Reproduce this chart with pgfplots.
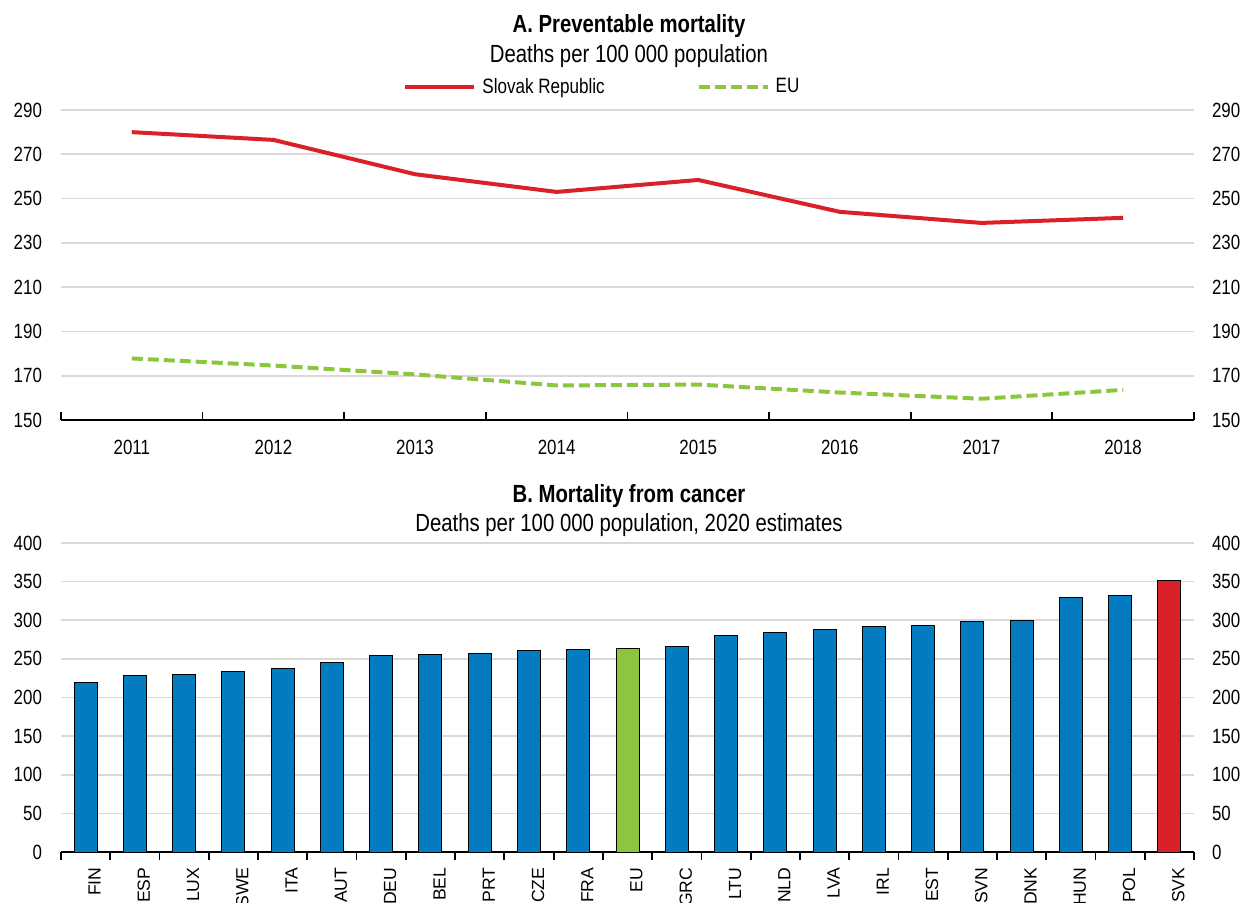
\documentclass[border=0pt]{standalone}
\usepackage{fontspec}
\setmainfont{Liberation Sans}[FakeStretch=0.82]
\newfontfamily\widesans{Liberation Sans}
\usepackage{pgfplots}
\pgfplotsset{compat=1.18}

\definecolor{oblue}{HTML}{037BC1}
\definecolor{ogreen}{HTML}{8CC63F}
\definecolor{ored}{HTML}{DA2128}
\definecolor{ogrid}{HTML}{D9D9D9}

\pgfplotsset{
  base/.style={
    scale only axis, width=566.5pt,
    /pgf/number format/assume math mode=true,
    tick label style={font=\fontsize{10.3}{12}\selectfont},
    axis x line*=bottom, axis y line*=left,
    y axis line style={draw=none},
    x axis line style={line width=0.9pt},
    major tick style={draw=none},
    minor x tick style={draw=black, line width=0.9pt},
    minor tick length=4pt, tick align=inside,
    ymajorgrids, grid style={ogrid, line width=0.8pt},
    yticklabel style={xshift=-6pt},
    clip=false,
  },
  rightlab/.style={
    scale only axis, width=566.5pt,
    /pgf/number format/assume math mode=true,
    tick label style={font=\fontsize{10.3}{12}\selectfont},
    hide x axis, axis y line*=right,
    y axis line style={draw=none}, major tick style={draw=none},
    yticklabel style={xshift=5.5pt},
  },
}

\begin{document}
\begin{tikzpicture}
\useasboundingbox (0,0) rectangle (625.5pt,-451.5pt);

% titles
\node[anchor=base, font=\fontsize{12.4}{14}\selectfont\bfseries] at (314.5pt,-16.5pt) {A. Preventable mortality};
\node[anchor=base, font=\fontsize{12.4}{14}\selectfont] at (314.5pt,-31.3pt) {Deaths per 100 000 population};
\node[anchor=base, font=\fontsize{12.4}{14}\selectfont\bfseries] at (314.5pt,-251pt) {B. Mortality from cancer};
\node[anchor=base, font=\fontsize{12.4}{14}\selectfont] at (314.5pt,-265.5pt) {Deaths per 100 000 population, 2020 estimates};

% panel A
\begin{axis}[base,
  at={(30.5pt,-210pt)}, anchor=south west, height=155pt,
  xmin=2010.5, xmax=2018.5, ymin=150, ymax=290,
  ytick={150,170,...,290},
  xtick={2011,...,2018},
  xticklabels={2011,2012,2013,2014,2015,2016,2017,2018},
  minor xtick={2010.5,2011.5,...,2018.5},
  xticklabel style={yshift=-6.5pt},
  legend columns=2,
  legend image code/.code={\draw[#1] (0pt,0pt) -- (34.5pt,0pt);},
  legend style={draw=none, fill=none, inner sep=0pt,
    at={(rel axis cs:0,1)}, anchor=west, xshift=171pt, yshift=11.5pt,
    font=\fontsize{10.4}{12}\selectfont,
    nodes={inner sep=0pt},
    /tikz/every odd column/.append style={column sep=3pt},
    /tikz/every even column/.append style={column sep=46pt}},
]
\addplot[ored, line width=2pt] coordinates {
  (2011,280) (2012,276.5) (2013,261) (2014,253) (2015,258.4)
  (2016,244) (2017,239) (2018,241.3)};
\addlegendentry{Slovak Republic}
\addplot[ogreen, line width=2pt, dash pattern=on 5.5pt off 2.5pt] coordinates {
  (2011,177.8) (2012,174.6) (2013,170.6) (2014,165.6) (2015,166)
  (2016,162.4) (2017,159.6) (2018,163.6)};
\addlegendentry{EU}
\end{axis}
\begin{axis}[rightlab,
  at={(30.5pt,-210pt)}, anchor=south west, height=155pt,
  xmin=2010.5, xmax=2018.5, ymin=150, ymax=290,
  ytick={150,170,...,290},
]
\end{axis}

% panel B
\begin{axis}[base,
  at={(30.5pt,-426pt)}, anchor=south west, height=154.5pt,
  xmin=-0.5, xmax=22.5, ymin=0, ymax=400,
  ytick={0,50,...,400},
  xtick={0,...,22},
  xticklabels={FIN,ESP,LUX,SWE,ITA,AUT,DEU,BEL,PRT,CZE,FRA,EU,GRC,LTU,NLD,LVA,IRL,EST,SVN,DNK,HUN,POL,SVK},
  xticklabel style={rotate=90, anchor=east, yshift=-4.5pt, font=\widesans\fontsize{8.8}{11}\selectfont},
  minor xtick={-0.5,0.5,...,22.5},
  ybar, bar width=11.5pt,
]
\addplot[bar shift=0pt, fill=oblue, draw=black, line width=0.5pt] coordinates {
  (0,219) (1,228) (2,230) (3,234) (4,237) (5,245) (6,255) (7,256)
  (8,257) (9,261) (10,262) (12,266) (13,280) (14,284) (15,288)
  (16,292) (17,293.5) (18,299) (19,299.5) (20,330) (21,332)};
\addplot[bar shift=0pt, fill=ogreen, draw=black, line width=0.5pt] coordinates {(11,263.5)};
\addplot[bar shift=0pt, fill=ored, draw=black, line width=0.5pt] coordinates {(22,352)};
\end{axis}
\begin{axis}[rightlab,
  at={(30.5pt,-426pt)}, anchor=south west, height=154.5pt,
  xmin=-0.5, xmax=22.5, ymin=0, ymax=400,
  ytick={0,50,...,400},
]
\end{axis}
\end{tikzpicture}
\end{document}
